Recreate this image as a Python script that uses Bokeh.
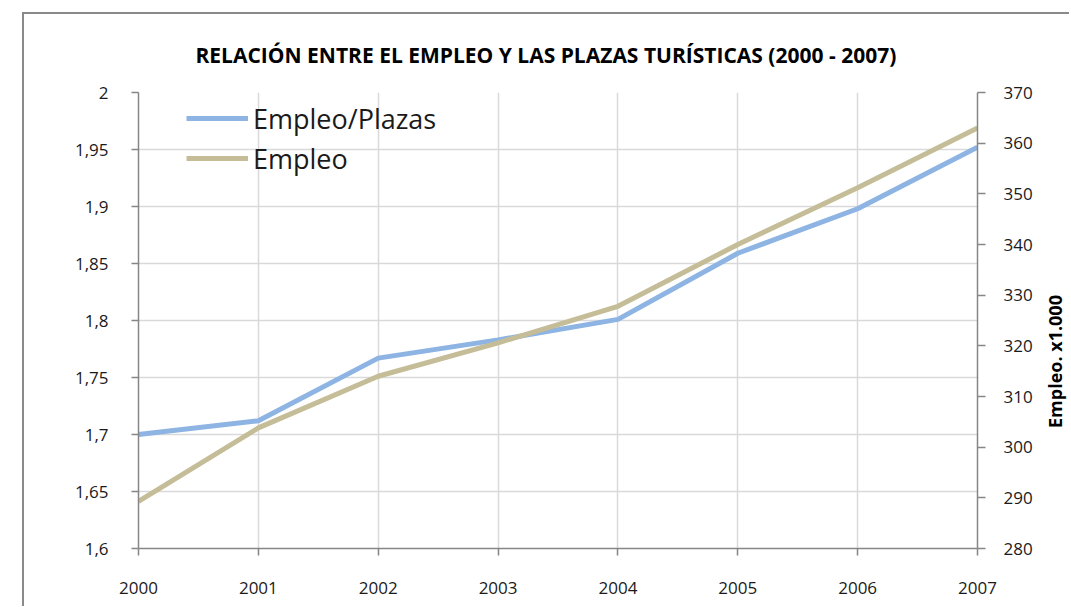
import math
from bokeh.plotting import figure
from bokeh.layouts import row
from bokeh.models import Range1d, LinearAxis, FixedTicker
from bokeh.core.properties import value
from bokeh.embed import file_html
from bokeh.resources import INLINE

# ---- data ----
years = [2000, 2001, 2002, 2003, 2004, 2005, 2006, 2007]
empleo_plazas = [1.700, 1.712, 1.767, 1.783, 1.801, 1.859, 1.898, 1.952]
empleo = [289.3, 303.8, 314.0, 320.6, 327.8, 340.0, 351.2, 363.0]

left_ticks = [1.6, 1.65, 1.7, 1.75, 1.8, 1.85, 1.9, 1.95, 2.0]
left_labels = ["1,6", "1,65", "1,7", "1,75", "1,8", "1,85", "1,9", "1,95", "2"]
right_ticks = [280, 290, 300, 310, 320, 330, 340, 350, 360, 370]
year_labels = [str(y) for y in years]

title_text = "RELACIÓN ENTRE EL EMPLEO Y LAS PLAZAS TURÍSTICAS (2000 - 2007)"
right_label_text = "Empleo. x1.000"
series_names = ["Empleo/Plazas", "Empleo"]

# ---- style ----
FONT = "Open Sans"
BLUE = "#8DB4E3"
TAN = "#C4BD97"
AXIS = "#868686"
GRID = "#D9D9D9"
TXT = "#1a1a1a"
H = 592

p = figure(width=1015, height=H,
           x_range=Range1d(2000, 2007), y_range=Range1d(1.6, 2.0),
           output_backend="svg", toolbar_location=None,
           min_border_left=114, min_border_right=62,
           min_border_top=77, min_border_bottom=58)
p.outline_line_color = None
p.background_fill_color = "white"
p.border_fill_color = "white"

p.title.text = title_text
p.title.align = "left"
p.title.offset = 57
p.title.standoff = 48
p.title.text_font = FONT
p.title.text_font_size = "21px"
p.title.text_font_style = "bold"
p.title.text_color = "black"

p.extra_y_ranges = {"emp": Range1d(280, 370)}

# lines
p.line(years, empleo_plazas, line_color=BLUE, line_width=5, legend_label=series_names[0])
p.line(years, empleo, line_color=TAN, line_width=5, y_range_name="emp", legend_label=series_names[1])

# axes
def style_axis(ax):
    ax.axis_line_color = AXIS
    ax.axis_line_width = 1.5
    ax.major_tick_line_color = AXIS
    ax.major_tick_line_width = 1.5
    ax.major_tick_in = 0
    ax.major_tick_out = 7
    ax.minor_tick_line_color = None
    ax.major_label_text_font = FONT
    ax.major_label_text_font_size = "17px"
    ax.major_label_text_color = TXT

xa = p.xaxis[0]
xa.ticker = FixedTicker(ticks=years)
xa.major_label_overrides = {y: l for y, l in zip(years, year_labels)}
style_axis(xa)
xa.major_label_standoff = 26

ya = p.yaxis[0]
ya.ticker = FixedTicker(ticks=left_ticks)
ya.major_label_overrides = {t: l for t, l in zip(left_ticks, left_labels)}
style_axis(ya)
ya.major_label_standoff = 23

ra = LinearAxis(y_range_name="emp", ticker=FixedTicker(ticks=right_ticks))
style_axis(ra)
ra.major_tick_out = 8
ra.major_label_standoff = 18
p.add_layout(ra, "right")

# grids
p.xgrid.ticker = FixedTicker(ticks=years)
p.xgrid.grid_line_color = GRID
p.xgrid.grid_line_width = 1.5
p.ygrid.grid_line_color = GRID
p.ygrid.grid_line_width = 1.5

# legend
lg = p.legend[0]
lg.location = (48, 370)
lg.border_line_color = None
lg.background_fill_alpha = 0
lg.padding = 0
lg.margin = 0
lg.spacing = 0
lg.glyph_width = 62
lg.glyph_height = 40
lg.label_height = 40
lg.label_standoff = 5
lg.label_text_font = FONT
lg.label_text_font_size = "27px"
lg.label_text_color = TXT

# side strip carrying the right axis title
p2 = figure(width=30, height=H, x_range=Range1d(0, 1), y_range=Range1d(0, 1),
            x_axis_type=None, y_axis_type=None,
            output_backend="svg", toolbar_location=None, min_border=0)
p2.outline_line_color = None
p2.grid.visible = False
p2.border_fill_color = "white"
p2.text(x=[0.52], y=[0.41], text=[right_label_text], angle=math.pi / 2,
        text_align="center", text_baseline="middle",
        text_font=value(FONT), text_font_size="18px", text_font_style="bold",
        text_color="black")

layout = row(p, p2, margin=(12, 0, 0, 22),
             styles={"border-left": "2px solid #8a8a8a", "border-top": "2px solid #8a8a8a"})

open("out.html", "w").write(file_html(layout, INLINE))
